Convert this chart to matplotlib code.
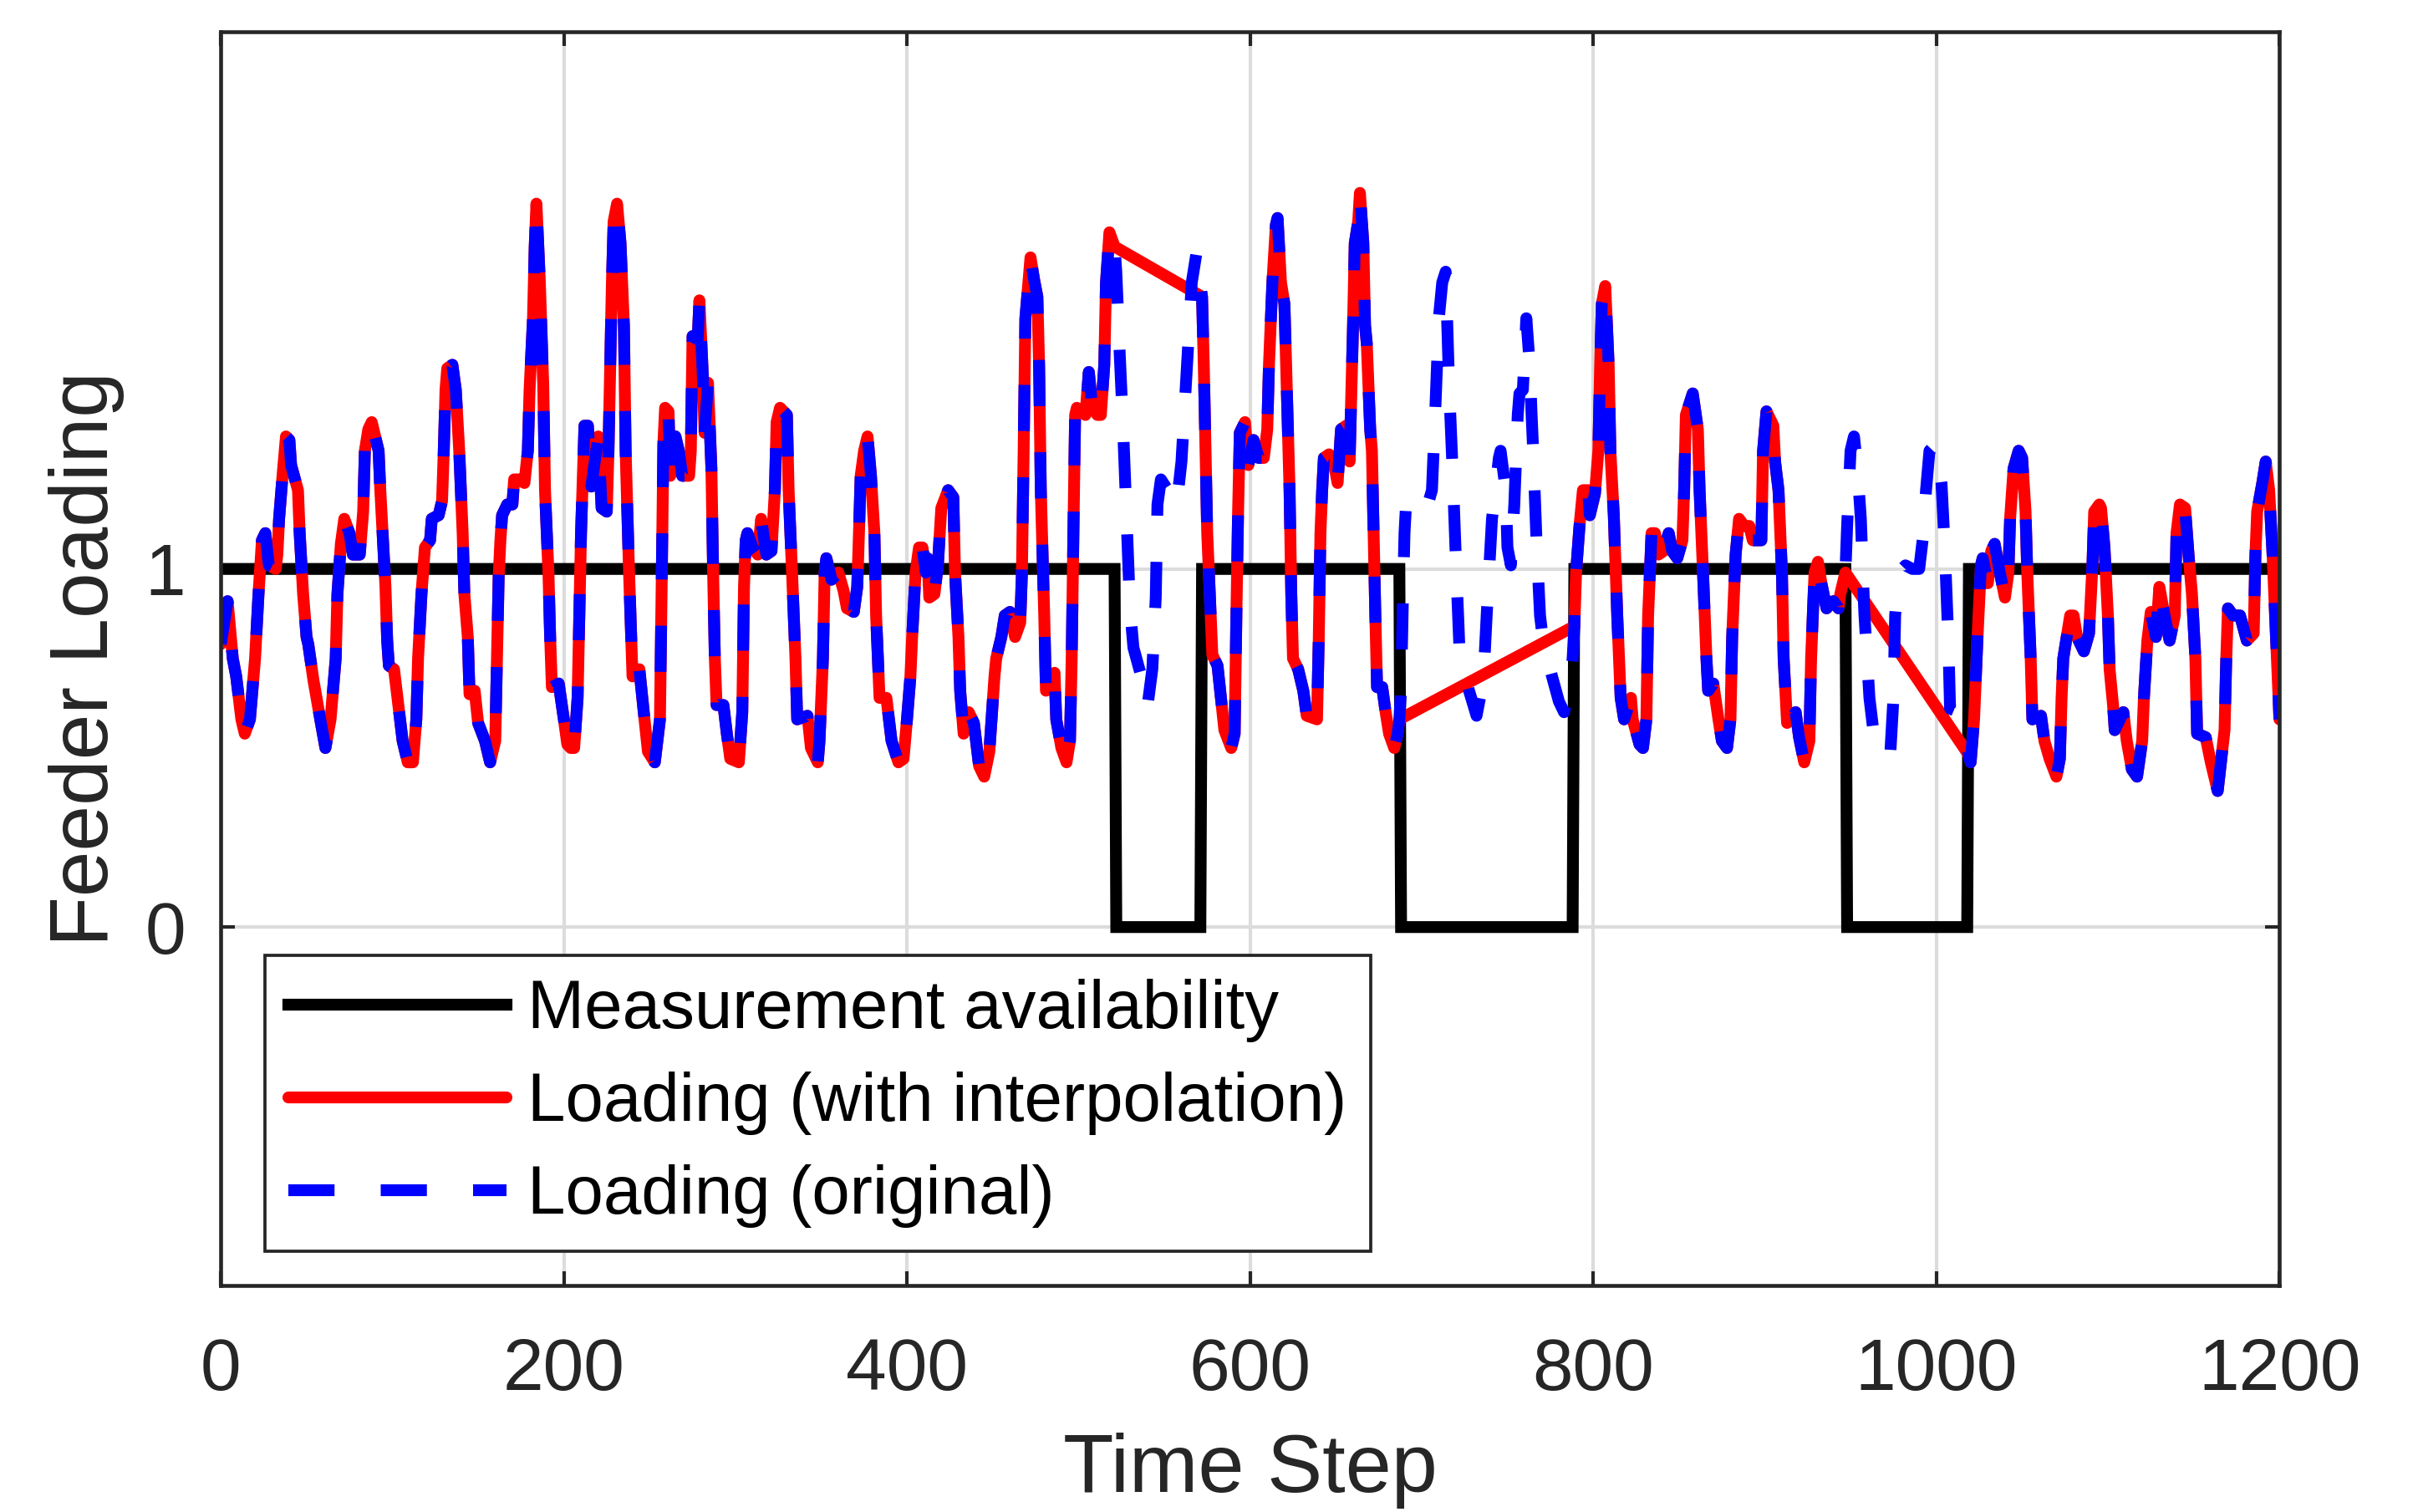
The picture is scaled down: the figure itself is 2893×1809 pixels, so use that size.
import numpy as np
import matplotlib
matplotlib.use("Agg")
import matplotlib.pyplot as plt

# feeder loading (time step, per-unit loading)
time_step = [
    0, 4, 7, 9, 12, 14, 17, 20, 22, 24, 26, 28, 32, 33, 34, 36, 38, 40, 41, 45,
    46, 48, 50, 51, 54, 58, 61, 64, 67, 68, 70, 72, 75, 77, 81, 83, 84, 86, 88, 92,
    93, 95, 96, 97, 98, 101, 104, 106, 109, 112, 114, 115, 117, 119, 122, 123, 127, 129, 130, 131,
    132, 135, 137, 139, 141, 142, 144, 145, 148, 150, 154, 157, 160, 161, 162, 163, 164, 167, 170, 171,
    174, 177, 179, 180, 182, 183, 184, 186, 188, 189, 191, 192, 193, 197, 200, 202, 204, 206, 208, 209,
    210, 211, 212, 214, 216, 218, 220, 222, 225, 226, 227, 228, 229, 231, 233, 235, 236, 238, 240, 244,
    247, 249, 253, 256, 257, 258, 259, 261, 262, 265, 267, 269, 273, 274, 275, 278, 279, 281, 282, 284,
    286, 287, 288, 289, 293, 295, 297, 302, 304, 305, 306, 307, 310, 313, 315, 318, 321, 323, 324, 326,
    330, 331, 333, 335, 336, 342, 344, 348, 349, 351, 352, 353, 356, 360, 363, 365, 369, 371, 372, 373,
    375, 377, 379, 381, 382, 384, 388, 391, 395, 398, 400, 402, 403, 405, 407, 409, 411, 412, 413, 416,
    418, 420, 424, 427, 428, 430, 431, 433, 436, 439, 442, 445, 448, 451, 452, 455, 457, 460, 463, 466,
    467, 468, 469, 472, 474, 476, 477, 478, 480, 481, 486, 487, 490, 493, 495, 496, 497, 498, 499, 502,
    504, 506, 508, 511, 513, 515, 516, 518, 521, 522, 524, 526, 528, 530, 532, 536, 540, 543, 545, 546,
    548, 552, 557, 560, 563, 566, 569, 571, 572, 573, 574, 575, 577, 578, 581, 583, 585, 589, 591, 592,
    593, 594, 597, 599, 602, 605, 608, 610, 611, 613, 615, 616, 618, 620, 621, 623, 624, 625, 628, 631,
    633, 639, 640, 641, 642, 643, 646, 649, 651, 653, 656, 658, 660, 661, 663, 664, 666, 667, 668, 670,
    671, 672, 673, 674, 677, 679, 681, 684, 686, 687, 688, 689, 690, 691, 694, 697, 700, 703, 706, 708,
    710, 712, 714, 716, 718, 720, 722, 727, 732, 736, 738, 741, 745, 746, 749, 750, 752, 754, 756, 757,
    759, 761, 763, 764, 765, 767, 769, 771, 776, 780, 783, 786, 788, 789, 790, 792, 794, 797, 798, 801,
    803, 804, 805, 807, 809, 810, 812, 814, 816, 818, 822, 823, 827, 829, 831, 832, 834, 836, 838, 841,
    844, 846, 849, 852, 853, 854, 858, 861, 862, 864, 866, 867, 870, 873, 875, 878, 880, 881, 883, 885,
    888, 891, 893, 898, 899, 901, 905, 906, 908, 910, 911, 913, 918, 920, 923, 926, 927, 929, 931, 933,
    936, 940, 943, 944, 947, 948, 950, 952, 954, 956, 958, 961, 963, 968, 973, 975, 976, 978, 982, 986,
    990, 992, 994, 996, 1000, 1003, 1005, 1007, 1008, 1013, 1016, 1018, 1019, 1020, 1022, 1024, 1026, 1027, 1030, 1032,
    1034, 1037, 1040, 1042, 1043, 1045, 1048, 1050, 1052, 1053, 1055, 1056, 1061, 1063, 1066, 1070, 1072, 1073, 1074, 1076,
    1078, 1080, 1082, 1086, 1089, 1091, 1092, 1095, 1096, 1098, 1100, 1101, 1103, 1104, 1109, 1111, 1114, 1117, 1120, 1121,
    1123, 1125, 1128, 1130, 1133, 1136, 1139, 1140, 1142, 1145, 1147, 1149, 1151, 1152, 1157, 1160, 1164, 1168, 1169, 1170,
    1173, 1177, 1181, 1185, 1186, 1187, 1190, 1192, 1194, 1196, 1198, 1200,
]
loading = [
    0.79, 0.91, 0.75, 0.70, 0.58, 0.54, 0.58, 0.75, 0.93, 1.08, 1.10, 1.01, 1.00, 1.04, 1.14, 1.26, 1.37, 1.36, 1.29, 1.22,
    1.10, 0.93, 0.81, 0.79, 0.69, 0.58, 0.50, 0.58, 0.75, 0.93, 1.07, 1.14, 1.10, 1.04, 1.04, 1.16, 1.33, 1.39, 1.41, 1.33,
    1.22, 1.04, 0.95, 0.80, 0.73, 0.72, 0.60, 0.52, 0.46, 0.46, 0.58, 0.75, 0.93, 1.06, 1.08, 1.14, 1.15, 1.19, 1.33, 1.50,
    1.56, 1.57, 1.50, 1.33, 1.10, 0.93, 0.81, 0.65, 0.66, 0.57, 0.52, 0.46, 0.52, 0.75, 0.98, 1.08, 1.15, 1.18, 1.18, 1.25,
    1.25, 1.24, 1.33, 1.50, 1.70, 1.90, 2.02, 1.80, 1.51, 1.22, 0.99, 0.81, 0.67, 0.68, 0.58, 0.51, 0.50, 0.50, 0.64, 0.87,
    1.10, 1.25, 1.40, 1.40, 1.23, 1.30, 1.37, 1.17, 1.16, 1.33, 1.57, 1.80, 1.97, 2.02, 1.91, 1.68, 1.33, 0.99, 0.70, 0.72,
    0.58, 0.49, 0.46, 0.58, 0.95, 1.35, 1.45, 1.44, 1.26, 1.37, 1.33, 1.26, 1.26, 1.33, 1.65, 1.64, 1.75, 1.54, 1.38, 1.52,
    1.28, 0.99, 0.75, 0.62, 0.62, 0.54, 0.47, 0.46, 0.60, 0.95, 1.08, 1.10, 1.06, 1.04, 1.14, 1.04, 1.05, 1.22, 1.41, 1.45,
    1.43, 1.22, 0.99, 0.75, 0.58, 0.59, 0.50, 0.46, 0.52, 0.75, 0.99, 1.03, 0.97, 0.99, 0.94, 0.89, 0.88, 0.95, 1.10, 1.26,
    1.33, 1.37, 1.26, 1.10, 0.87, 0.64, 0.64, 0.52, 0.46, 0.47, 0.58, 0.70, 0.81, 0.99, 1.06, 1.06, 0.99, 1.03, 0.92, 0.93,
    1.01, 1.17, 1.22, 1.20, 0.99, 0.81, 0.66, 0.54, 0.60, 0.57, 0.45, 0.42, 0.49, 0.70, 0.75, 0.81, 0.87, 0.88, 0.81, 0.85,
    0.99, 1.33, 1.70, 1.87, 1.81, 1.76, 1.57, 1.22, 0.87, 0.66, 0.71, 0.58, 0.50, 0.46, 0.52, 0.75, 1.10, 1.43, 1.45, 1.44,
    1.43, 1.55, 1.45, 1.43, 1.43, 1.57, 1.80, 1.94, 1.90, 1.83, 1.60, 1.39, 1.14, 0.89, 0.78, 0.71, 0.61, 0.72, 0.92, 1.18,
    1.25, 1.22, 1.17, 1.30, 1.55, 1.80, 1.89, 1.80, 1.76, 1.57, 1.33, 1.10, 0.87, 0.76, 0.73, 0.64, 0.55, 0.50, 0.54, 0.87,
    1.16, 1.38, 1.41, 1.29, 1.36, 1.31, 1.31, 1.39, 1.57, 1.80, 1.96, 1.98, 1.80, 1.74, 1.57, 1.22, 0.93, 0.75, 0.72, 0.66,
    0.59, 0.58, 0.80, 1.10, 1.22, 1.31, 1.32, 1.29, 1.24, 1.39, 1.40, 1.30, 1.68, 1.91, 1.97, 2.05, 1.91, 1.68, 1.63, 1.39,
    1.33, 1.10, 0.87, 0.67, 0.67, 0.60, 0.54, 0.50, 0.54, 0.58, 0.66, 0.90, 1.10, 1.19, 1.17, 1.18, 1.17, 1.17, 1.22, 1.45,
    1.70, 1.80, 1.83, 1.51, 1.28, 1.02, 0.78, 0.67, 0.59, 0.69, 0.88, 1.14, 1.31, 1.33, 1.22, 1.06, 1.01, 1.18, 1.43, 1.49,
    1.50, 1.70, 1.57, 1.44, 1.33, 1.07, 0.87, 0.79, 0.70, 0.63, 0.60, 0.66, 0.75, 0.84, 0.99, 1.12, 1.22, 1.22, 1.15, 1.21,
    1.33, 1.56, 1.74, 1.79, 1.57, 1.33, 1.15, 0.87, 0.64, 0.58, 0.64, 0.58, 0.51, 0.50, 0.58, 0.87, 1.10, 1.10, 1.04, 1.05,
    1.10, 1.05, 1.03, 1.08, 1.22, 1.43, 1.49, 1.39, 1.22, 0.99, 0.75, 0.66, 0.68, 0.58, 0.52, 0.50, 0.58, 0.81, 1.04, 1.14,
    1.12, 1.12, 1.08, 1.08, 1.33, 1.44, 1.40, 1.30, 1.22, 0.99, 0.75, 0.57, 0.60, 0.53, 0.46, 0.52, 0.75, 0.99, 1.02, 0.96,
    0.89, 0.91, 0.89, 0.93, 0.99, 1.12, 1.33, 1.37, 1.28, 1.14, 0.88, 0.64, 0.56, 0.51, 0.47, 0.64, 0.87, 0.99, 1.01, 1.00,
    1.00, 1.08, 1.22, 1.33, 1.35, 1.24, 1.05, 0.80, 0.61, 0.60, 0.58, 0.50, 0.48, 0.46, 0.58, 0.81, 1.01, 1.03, 0.96, 1.05,
    1.07, 0.99, 0.92, 0.99, 1.14, 1.28, 1.33, 1.31, 1.16, 0.99, 0.75, 0.58, 0.59, 0.52, 0.47, 0.42, 0.47, 0.64, 0.75, 0.81,
    0.87, 0.87, 0.81, 0.77, 0.82, 1.01, 1.16, 1.18, 1.17, 1.06, 0.87, 0.72, 0.62, 0.55, 0.60, 0.52, 0.44, 0.42, 0.52, 0.64,
    0.80, 0.88, 0.81, 0.95, 0.87, 0.80, 0.87, 1.10, 1.18, 1.17, 1.04, 0.93, 0.75, 0.54, 0.53, 0.46, 0.38, 0.55, 0.75, 0.89,
    0.87, 0.87, 0.80, 0.82, 1.04, 1.16, 1.24, 1.30, 1.22, 1.04, 0.81, 0.58,
]

# periods with no measurement (first and last missing step)
gap_start = [522, 688, 948]
gap_end = [571, 788, 1018]

x_ticks = [0, 200, 400, 600, 800, 1000, 1200]
y_ticks = [0, 1]

plt.rcParams["font.family"] = ["Liberation Sans", "DejaVu Sans"]
dark = "#262626"
lw = 3.4

t = np.array(time_step)
y = np.array(loading)
available = np.ones(len(t), dtype=bool)
for s, e in zip(gap_start, gap_end):
    available &= ~((t >= s) & (t <= e))

avail_t = [0]
avail_v = [1]
for s, e in zip(gap_start, gap_end):
    avail_t += [s - 1, s, e, e + 1]
    avail_v += [1, 0, 0, 1]
avail_t.append(1200)
avail_v.append(1)

fig = plt.figure(figsize=(2893 / 300, 1809 / 300), dpi=300)
ax = fig.add_axes([0.0913, 0.150, 0.8514, 0.829])

ax.plot(avail_t, avail_v, color="black", lw=lw, solid_joinstyle="miter",
        label="Measurement availability")
ax.plot(t[available], y[available], color="red", lw=lw, solid_capstyle="round",
        solid_joinstyle="round", label="Loading (with interpolation)")
ax.plot(t, y, color="blue", lw=lw, dashes=(3.9, 3.9), dash_capstyle="butt",
        label="Loading (original)")

ax.set_xlim(0, 1200)
ax.set_ylim(-1, 2.5)
ax.set_xticks(x_ticks)
ax.set_yticks(y_ticks)
ax.grid(True, color="#dcdcdc", lw=1)
ax.set_axisbelow(True)
ax.tick_params(direction="in", length=4, width=1, top=True, right=True,
               labelsize=21, colors=dark)
ax.tick_params(axis="x", pad=15)
ax.tick_params(axis="y", pad=10)
for sp in ax.spines.values():
    sp.set_color(dark)
    sp.set_linewidth(1.1)

ax.set_xlabel("Time Step", fontsize=23.8, color=dark, labelpad=8)
ax.set_ylabel("Feeder Loading", fontsize=23.6, color=dark, labelpad=6)

leg = ax.legend(loc="lower left", bbox_to_anchor=(0.0215, 0.027, 0.5372, 0.2374),
                mode="expand", fontsize=19.6, frameon=True, fancybox=False,
                framealpha=1, edgecolor=dark, borderpad=0.34, handlelength=3.2,
                handletextpad=0.3, labelspacing=0.43, borderaxespad=0)
leg.get_frame().set_linewidth(0.9)

fig.savefig("out.png", dpi=300)
